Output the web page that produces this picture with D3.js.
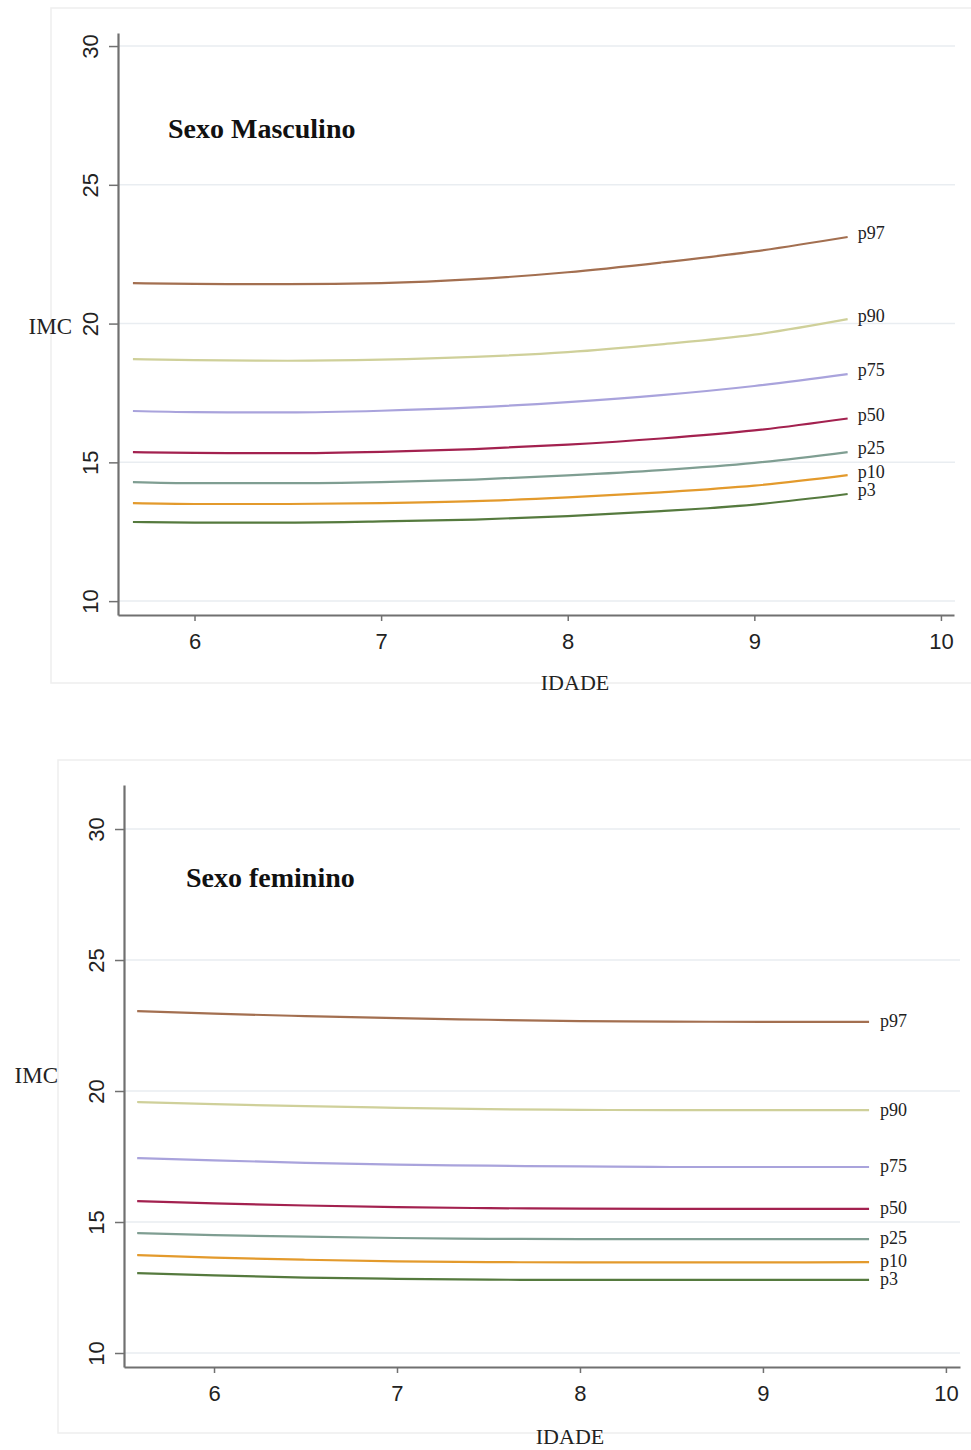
<!DOCTYPE html>
<html>
<head>
<meta charset="utf-8">
<script src="https://cdn.jsdelivr.net/npm/d3@7"></script>
<style>
  body { margin: 0; background: #fff; }
</style>
</head>
<body>
<svg id="chart" width="971" height="1450"></svg>
<script>

// percentis e cores
var percentis = ["p3", "p10", "p25", "p50", "p75", "p90", "p97"]
var cores = ["#557a3e", "#e39a2c", "#7f9e92", "#a3214f", "#a9a3dc", "#cfd09a", "#a36f50"]

var xTicks = [6, 7, 8, 9, 10]
var yTicks = [10, 15, 20, 25, 30]

// sexo masculino
var idadeMasc = [5.67, 6, 6.5, 7, 7.5, 8, 8.5, 9, 9.5]
var masc_p3  = [12.85, 12.83, 12.83, 12.87, 12.94, 13.06, 13.24, 13.48, 13.86]
var masc_p10 = [13.53, 13.50, 13.50, 13.53, 13.60, 13.74, 13.92, 14.16, 14.54]
var masc_p25 = [14.29, 14.25, 14.25, 14.29, 14.38, 14.53, 14.72, 14.98, 15.37]
var masc_p50 = [15.37, 15.34, 15.33, 15.38, 15.48, 15.64, 15.86, 16.15, 16.58]
var masc_p75 = [16.85, 16.81, 16.80, 16.86, 16.98, 17.17, 17.42, 17.75, 18.18]
var masc_p90 = [18.72, 18.68, 18.66, 18.70, 18.80, 18.97, 19.25, 19.60, 20.16]
var masc_p97 = [21.46, 21.43, 21.42, 21.46, 21.60, 21.85, 22.20, 22.60, 23.12]

// sexo feminino
var idadeFem = [5.58, 6, 6.5, 7, 7.5, 8, 8.5, 9, 9.58]
var fem_p3  = [13.05, 12.96, 12.88, 12.83, 12.80, 12.79, 12.79, 12.79, 12.79]
var fem_p10 = [13.74, 13.64, 13.56, 13.50, 13.47, 13.46, 13.46, 13.46, 13.47]
var fem_p25 = [14.58, 14.50, 14.44, 14.39, 14.36, 14.35, 14.35, 14.35, 14.35]
var fem_p50 = [15.80, 15.71, 15.63, 15.57, 15.53, 15.51, 15.50, 15.50, 15.50]
var fem_p75 = [17.44, 17.35, 17.26, 17.19, 17.15, 17.12, 17.10, 17.10, 17.10]
var fem_p90 = [19.58, 19.50, 19.42, 19.36, 19.31, 19.28, 19.27, 19.27, 19.27]
var fem_p97 = [23.05, 22.95, 22.86, 22.78, 22.72, 22.67, 22.65, 22.64, 22.64]

var svg = d3.select("#chart")

var panels = [
    {
        title: "Sexo Masculino",
        idade: idadeMasc,
        series: [masc_p3, masc_p10, masc_p25, masc_p50, masc_p75, masc_p90, masc_p97],
        box: {x: 51, y: 8, w: 930, h: 675},
        xDomain: [5.59, 10.07], xRange: [118, 954],
        yDomain: [9.5, 30.47], yRange: [615, 33],
        gridEnd: 955,
        titlePos: [168, 138],
        imcPos: [72, 334],
        idadePos: [575, 690],
        labelDx: 10, labelDy: -3
    },
    {
        title: "Sexo feminino",
        idade: idadeFem,
        series: [fem_p3, fem_p10, fem_p25, fem_p50, fem_p75, fem_p90, fem_p97],
        box: {x: 58, y: 760, w: 930, h: 673},
        xDomain: [5.508, 10.077], xRange: [124, 960],
        yDomain: [9.466, 31.68], yRange: [1367, 785],
        gridEnd: 960,
        titlePos: [186, 887],
        imcPos: [58, 1083],
        idadePos: [570, 1444],
        labelDx: 11, labelDy: 0
    }
]

panels.forEach(function (p) {

    var g = svg.append("g")

    // fundo do painel
    g.append("rect")
        .attr("x", p.box.x).attr("y", p.box.y)
        .attr("width", p.box.w).attr("height", p.box.h)
        .attr("fill", "#fff")
        .attr("stroke", "#eeeeee")
        .attr("stroke-width", 1.5)

    var xScale = d3.scaleLinear().domain(p.xDomain).range(p.xRange)
    var yScale = d3.scaleLinear().domain(p.yDomain).range(p.yRange)
    var x0 = p.xRange[0]
    var y0 = p.yRange[0]

    // linhas de grade
    g.selectAll(".grid")
        .data(yTicks)
        .enter()
        .append("line")
        .attr("x1", x0)
        .attr("x2", p.gridEnd)
        .attr("y1", d => yScale(d))
        .attr("y2", d => yScale(d))
        .attr("stroke", "#e9edf1")
        .attr("stroke-width", 1.5)

    // eixo y
    var yAxis = g.append("g")
        .attr("transform", "translate(" + x0 + ",0)")
        .call(d3.axisLeft(yScale).tickValues(yTicks).tickFormat(d3.format("d")).tickSize(9).tickSizeOuter(0))
    yAxis.select(".domain").attr("stroke", "#707070").attr("stroke-width", 2.2)
    yAxis.selectAll(".tick line").attr("stroke", "#707070").attr("stroke-width", 1.5)
    yAxis.selectAll("text")
        .attr("transform", "rotate(-90)")
        .attr("x", 0)
        .attr("y", -28)
        .attr("dy", "0.35em")
        .attr("text-anchor", "middle")
        .attr("fill", "#222")
        .style("font-family", "Arial, 'Liberation Sans', sans-serif")
        .style("font-size", "22px")

    // eixo x
    var xAxis = g.append("g")
        .attr("transform", "translate(0," + y0 + ")")
        .call(d3.axisBottom(xScale).tickValues(xTicks).tickFormat(d3.format("d")).tickSize(6).tickSizeOuter(0).tickPadding(12))
    xAxis.select(".domain").attr("stroke", "#707070").attr("stroke-width", 2.2)
    xAxis.selectAll(".tick line").attr("stroke", "#707070").attr("stroke-width", 1.5)
    xAxis.selectAll("text")
        .attr("fill", "#222")
        .style("font-family", "Arial, 'Liberation Sans', sans-serif")
        .style("font-size", "22px")

    // curvas de percentil
    var line = d3.line()
        .x(d => xScale(d[0]))
        .y(d => yScale(d[1]))
        .curve(d3.curveMonotoneX)

    p.series.forEach(function (vals, i) {
        var pts = p.idade.map((a, j) => [a, vals[j]])
        g.append("path")
            .datum(pts)
            .attr("d", line)
            .attr("fill", "none")
            .attr("stroke", cores[i])
            .attr("stroke-width", 2.2)

        var last = pts[pts.length - 1]
        g.append("text")
            .attr("x", xScale(last[0]) + p.labelDx)
            .attr("y", yScale(last[1]) + p.labelDy)
            .attr("dy", "0.3em")
            .style("font-family", "'Times New Roman', 'Liberation Serif', serif")
            .style("font-size", "18px")
            .attr("fill", "#222")
            .text(percentis[i])
    })

    // titulos
    g.append("text")
        .attr("x", p.titlePos[0]).attr("y", p.titlePos[1])
        .style("font-family", "'Times New Roman', 'Liberation Serif', serif")
        .style("font-size", "28px")
        .style("font-weight", "bold")
        .attr("fill", "#111")
        .text(p.title)

    g.append("text")
        .attr("x", p.imcPos[0]).attr("y", p.imcPos[1])
        .attr("text-anchor", "end")
        .style("font-family", "'Times New Roman', 'Liberation Serif', serif")
        .style("font-size", "23px")
        .attr("fill", "#222")
        .text("IMC")

    g.append("text")
        .attr("x", p.idadePos[0]).attr("y", p.idadePos[1])
        .attr("text-anchor", "middle")
        .style("font-family", "'Times New Roman', 'Liberation Serif', serif")
        .style("font-size", "22px")
        .attr("fill", "#222")
        .text("IDADE")
})

</script>
</body>
</html>
